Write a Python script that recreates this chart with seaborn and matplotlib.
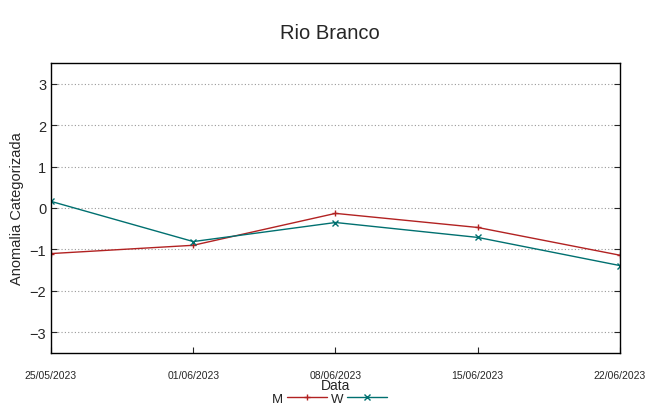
import matplotlib
matplotlib.use("Agg")
import matplotlib.pyplot as plt
import matplotlib.dates as mdates
import seaborn as sns
import pandas as pd

# Values
dates = ["2023-05-25", "2023-06-01", "2023-06-08", "2023-06-15", "2023-06-22"]
m_vals = [-1.10, -0.90, -0.13, -0.47, -1.14]
w_vals = [0.16, -0.81, -0.35, -0.71, -1.39]
y_ticks = [-3, -2, -1, 0, 1, 2, 3]

df = pd.DataFrame({
    "Data": pd.to_datetime(dates * 2),
    "valor": m_vals + w_vals,
    "serie": ["M"] * len(dates) + ["W"] * len(dates),
})

sns.set_style("ticks")
plt.rcParams["font.family"] = ["Liberation Sans", "DejaVu Sans"]

fig = plt.figure(figsize=(6.59, 4.06), dpi=100)
ax = fig.add_axes([51 / 659, 52 / 406, 569 / 659, 290 / 406])

palette = {"M": "#b22222", "W": "#007070"}
sns.lineplot(data=df, x="Data", y="valor", hue="serie", style="serie",
             markers={"M": "+", "W": "x"}, dashes=False, palette=palette,
             linewidth=1, markersize=5, ax=ax, legend=False)
# seaborn draws white marker edges; give them the line colour
for line in ax.lines:
    line.set_markeredgecolor(line.get_color())
    line.set_markeredgewidth(1)

ax.set_ylim(-3.5, 3.5)
ax.set_yticks(y_ticks)
ax.set_xlim(df["Data"].min(), df["Data"].max())
ax.set_xticks(pd.to_datetime(dates))
ax.xaxis.set_major_formatter(mdates.DateFormatter("%d/%m/%Y"))
ax.yaxis.grid(True, linestyle=(0, (1, 2)), color="#999999", linewidth=0.8)
ax.tick_params(axis="y", labelsize=10.5, direction="in", right=True, length=4)
ax.tick_params(axis="x", labelsize=7.5, direction="in", top=False, length=4, pad=12)
for s in ax.spines.values():
    s.set_color("black")
    s.set_linewidth(1)

ax.set_xlabel("Data", fontsize=10, labelpad=-1)
ax.set_ylabel("Anomalia Categorizada", fontsize=10.5, labelpad=4)
fig.suptitle("Rio Branco", fontsize=14.5, y=0.94)

handles = [
    plt.Line2D([], [], color=palette["M"], marker="+", linewidth=1, markersize=5),
    plt.Line2D([], [], color=palette["W"], marker="x", linewidth=1, markersize=5),
]
fig.legend(handles, ["M", "W"], loc="center", bbox_to_anchor=(0.5, 0.016),
           ncol=2, frameon=False, markerfirst=False, fontsize=9.5,
           handlelength=3, columnspacing=0.3, handletextpad=0.3,
           borderaxespad=0, borderpad=0)

fig.savefig("out.png", dpi=100)
